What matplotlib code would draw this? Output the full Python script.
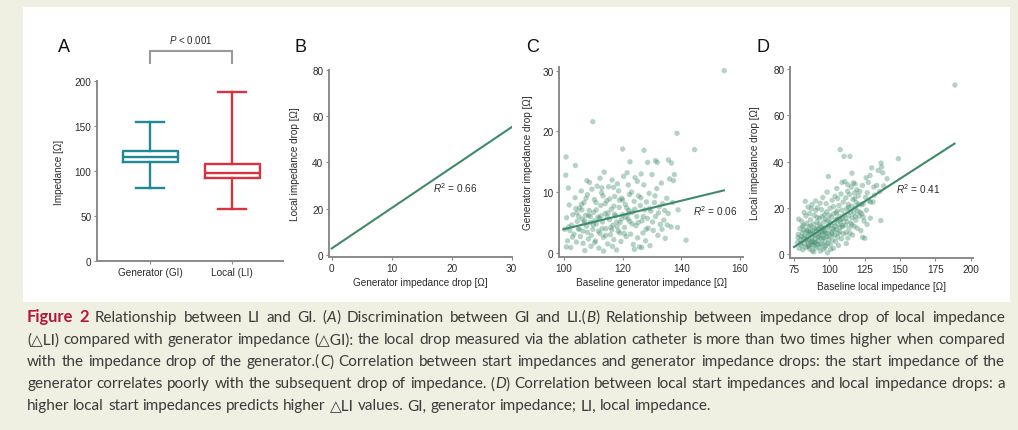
import re
import matplotlib
matplotlib.use("Agg")
import matplotlib.pyplot as plt
from matplotlib.patches import Rectangle

plt.rcParams['font.family'] = ['Liberation Sans', 'DejaVu Sans']
plt.rcParams['mathtext.fontset'] = 'custom'
plt.rcParams['mathtext.rm'] = 'Liberation Sans'
plt.rcParams['mathtext.it'] = 'Liberation Sans:italic'

W, H = 1018, 431

# ---------------- data ----------------
box_labels = ["Generator (GI)", "Local (LI)"]
box_low = [81, 58]
box_q1 = [109.6, 92.6]
box_med = [116.0, 97.8]
box_q3 = [122.2, 107.6]
box_high = [154.6, 188]
p_text = "< 0.001"

b_fit_x = [0, 30]
b_fit_y = [2.8, 55.3]
b_r2 = "0.66"

c_fit_x = [99.8, 154.5]
c_fit_y = [3.9, 10.3]
c_r2 = "0.06"
c_baseline = [154.6, 109.8, 138.5, 144.5, 120.0, 127.3, 100.7, 103.9, 131.2, 131.8, 135.6, 136.6, 137.6, 137.3, 138.9, 138.7, 141.6, 100.6, 101.5,
              100.3, 100.9, 101.2, 101.8, 102.3, 102.6, 103.0, 103.4, 103.8, 104.2, 104.5, 104.9, 105.3, 105.6, 105.9, 106.2, 106.5, 106.8, 107.1, 107.4,
              107.7, 108.0, 108.3, 108.6, 108.9, 109.2, 109.5, 109.8, 110.1, 110.4, 110.7, 111.0, 111.3, 111.6, 111.9, 112.2, 112.5, 112.8, 113.1, 113.4,
              113.7, 114.0, 114.3, 114.6, 114.9, 115.2, 115.5, 115.8, 116.1, 116.4, 116.7, 117.0, 117.3, 117.6, 117.9, 118.2, 118.5, 118.8, 119.1, 119.4,
              119.7, 120.0, 120.3, 120.6, 120.9, 121.2, 121.5, 121.8, 122.1, 122.4, 122.7, 123.0, 123.3, 123.6, 123.9, 124.2, 124.5, 124.8, 125.1, 125.4,
              125.7, 126.0, 126.3, 126.6, 126.9, 127.2, 127.5, 127.8, 128.1, 128.4, 128.7, 129.0, 129.3, 129.6, 130.0, 130.4, 130.8, 131.2, 131.6, 132.0,
              132.4, 132.8, 133.2, 133.6, 134.0, 134.5, 135.0, 135.5, 136.0, 136.5, 137.0,
              104.0, 105.0, 106.0, 107.0, 108.0, 109.0, 110.0, 111.0, 112.0, 113.0, 114.0, 115.0, 116.0, 117.0, 118.0, 119.0, 120.0, 121.0, 122.0,
              110.5, 113.5, 116.5, 106.5, 124.0, 126.5, 102.0, 100.8, 107.8, 112.3, 118.6, 125.0, 128.5, 122.5,
              101.6, 102.9, 104.4, 105.2, 106.1, 106.9, 107.5, 108.4, 109.3, 110.3, 110.9, 111.7, 112.6, 113.3, 114.2, 114.8, 115.6, 116.3,
              117.2, 118.1, 118.9, 119.6, 120.5, 121.4, 122.3, 123.2, 124.1, 125.3, 126.2, 127.0, 128.0, 129.1, 130.2, 131.0, 132.2, 133.4,
              134.3, 135.2, 112.9, 116.9, 121.9, 108.7]
c_drop = [30.0, 21.6, 19.7, 17.0, 17.1, 16.9, 15.8, 14.4, 15.2, 14.9, 15.3, 14.8, 12.9, 11.9, 7.1, 4.2, 2.1, 12.8, 10.7,
          3.9, 5.8, 2.0, 7.9, 0.9, 4.6, 6.3, 3.1, 9.1, 1.8, 5.2, 4.0, 7.4, 2.7, 10.2, 5.6, 3.6, 8.3, 0.4, 6.2,
          4.4, 9.6, 2.3, 7.0, 5.0, 1.1, 10.5, 3.9, 6.7, 8.8, 2.0, 4.8, 11.0, 5.9, 0.8, 3.2, 7.8, 9.9, 5.1, 2.6,
          13.3, 6.5, 4.0, 8.6, 1.5, 10.9, 5.5, 3.0, 7.2, 12.0, 4.6, 2.2, 9.3, 6.1, 0.5, 11.4, 3.6, 7.5, 5.0, 1.9,
          9.0, 6.3, 12.6, 4.2, 8.0, 2.7, 13.2, 5.6, 7.0, 5.2, 3.1, 10.0, 6.7, 1.4, 8.5, 12.4, 4.5, 6.0, 2.5, 9.4,
          1.0, 7.8, 13.0, 5.3, 3.3, 11.2, 7.1, 2.0, 8.4, 5.7, 4.1, 9.8, 1.2, 6.9, 12.9, 3.7, 8.3, 6.0, 10.6, 2.9,
          7.6, 4.7, 11.5, 8.1, 5.4, 2.4, 9.0, 6.5, 12.2, 4.3, 8.3,
          7.3, 6.0, 8.0, 5.3, 3.4, 6.0, 4.6, 7.1, 5.7, 4.0, 8.1, 6.6, 4.2, 7.7, 5.1, 3.3, 8.7, 5.9, 6.5,
          1.7, 0.3, 1.1, 1.6, 0.6, 0.9, 3.7, 1.0, 11.9, 12.3, 10.2, 11.8, 14.9, 15.0,
          4.3, 2.6, 6.6, 3.9, 7.1, 4.9, 9.0, 6.2, 2.9, 5.3, 8.3, 3.6, 6.1, 9.4, 2.9, 5.9, 8.9, 3.8,
          6.4, 4.3, 8.7, 5.6, 3.2, 7.4, 9.6, 4.8, 7.2, 5.0, 9.1, 6.0, 3.9, 7.3, 5.1, 9.4, 6.6, 3.9,
          7.0, 4.6, 10.7, 10.8, 11.2, 11.6]

d_fit_x = [75, 188.5]
d_fit_y = [3.0, 47.8]
d_r2 = "0.41"
d_baseline = [77.5, 78.0, 78.6, 79.2, 79.5, 80.1, 80.4, 80.9, 81.3, 81.7, 82.0, 82.4, 82.8, 83.1, 83.5, 83.8, 84.2, 84.6, 84.9, 85.0,
              83.0, 82.2, 78.3, 81.0, 84.0, 85.3, 79.8, 77.9,
              85.5, 85.8, 86.1, 86.4, 86.7, 87.0, 87.3, 87.6, 87.9, 88.2, 88.5, 88.8, 89.1, 89.4, 89.7, 90.0, 90.3, 90.6, 90.9, 91.2,
              91.5, 91.8, 86.0, 87.8, 89.0, 90.5, 91.0, 88.0, 86.6, 89.8, 85.2, 91.6,
              92.1, 92.4, 92.7, 93.0, 93.3, 93.6, 93.9, 94.2, 94.5, 94.8, 95.1, 95.4, 95.7, 96.0, 96.3, 96.6, 96.9, 97.2, 97.5, 97.8,
              98.1, 98.4, 98.7, 99.0, 99.3, 99.6, 99.9, 93.5, 95.0, 96.8, 98.0, 99.5, 94.0, 97.0, 92.9, 95.9, 98.9,
              100.2, 100.5, 100.8, 101.1, 101.4, 101.7, 102.0, 102.3, 102.6, 102.9, 103.2, 103.5, 103.8, 104.1, 104.4, 104.7, 105.0,
              105.3, 105.6, 105.9, 106.2, 106.5, 106.8, 107.1, 107.4, 107.7, 108.0, 108.3, 108.6, 108.9, 109.2, 109.5, 109.8, 110.0,
              101.0, 103.0, 105.5, 107.5, 109.0, 100.0, 104.0, 106.0, 110.4,
              110.6, 111.0, 111.3, 111.6, 111.9, 112.2, 112.5, 112.8, 113.1, 113.4, 113.7, 114.0, 114.3, 114.6, 114.9, 115.2, 115.5,
              115.8, 116.1, 116.4, 116.7, 117.0, 117.3, 117.6, 117.9, 118.2, 118.5, 118.8, 119.1, 119.4, 119.7, 120.0, 112.0, 114.5,
              116.0, 118.0, 113.0,
              120.5, 121.0, 121.5, 121.8, 122.3, 122.8, 123.4, 123.5, 124.0, 124.6, 125.1, 125.6, 126.2, 126.8, 126.7, 127.5, 128.0,
              128.8, 129.2, 130.0, 130.9, 131.4, 132.0, 133.5, 134.6, 135.5, 136.4, 136.6, 137.0, 137.7, 138.5, 140.8, 148.8, 188.8,
              126.0, 124.0, 129.0,
              80.5, 81.8, 83.3, 84.4, 85.7, 86.9, 87.5, 88.6, 89.5, 90.7, 91.4, 92.6, 93.8, 94.6, 95.5, 96.5, 97.4, 98.3, 99.2, 100.7,
              101.9, 103.4, 104.9, 106.4, 107.8, 109.4, 111.4, 113.6, 115.9, 118.4, 120.8, 123.0]
d_drop = [5.0, 8.5, 2.5, 11.0, 6.3, 3.8, 14.2, 9.1, 1.8, 6.9, 12.5, 4.4, 8.0, 2.9, 16.5, 10.4, 5.6, 7.7, 3.1, 20.3,
          22.8, 18.0, 15.1, 12.0, 13.3, 9.5, 4.7, 7.2,
          6.0, 11.8, 2.2, 8.8, 14.8, 4.9, 19.6, 7.0, 1.4, 10.2, 5.3, 12.9, 3.5, 16.8, 8.1, 6.5, 23.0, 2.6, 9.9, 13.7,
          4.2, 7.4, 17.5, 21.4, 0.9, 18.9, 11.2, 4.1, 9.7, 5.0, 4.0, 20.0,
          5.8, 10.8, 3.0, 15.5, 8.4, 1.2, 12.0, 6.7, 19.2, 4.6, 9.3, 24.5, 2.0, 13.8, 7.1, 17.0, 5.2, 11.5, 3.6, 21.8,
          8.9, 26.8, 0.5, 14.6, 33.6, 6.2, 10.0, 22.0, 16.2, 2.8, 18.3, 12.6, 9.6, 9.0, 13.0, 10.9, 4.5,
          7.8, 19.8, 4.1, 12.3, 15.9, 9.2, 23.3, 6.0, 11.0, 2.4, 17.4, 13.5, 8.2, 25.0, 5.4, 14.9, 10.6,
          28.4, 18.6, 7.3, 12.8, 3.7, 21.0, 16.3, 9.6, 45.2, 13.9, 26.0, 6.6, 19.0, 11.7, 15.2, 22.5, 8.7,
          2.0, 20.5, 15.0, 11.5, 31.0, 16.8, 12.0, 24.0, 42.3,
          17.0, 31.4, 12.6, 24.3, 9.4, 19.5, 14.0, 27.2, 6.9, 21.5, 16.6, 11.2, 25.8, 42.3, 18.2, 13.4, 29.0,
          20.7, 15.7, 8.2, 23.6, 30.8, 17.8, 12.0, 26.4, 30.4, 19.9, 14.6, 22.2, 27.8, 11.2, 18.6, 4.5, 9.0,
          35.0, 24.0, 30.0,
          25.2, 16.4, 27.1, 18.1, 10.1, 21.3, 29.7, 7.2, 21.7, 14.3, 6.8, 24.5, 19.0, 26.5, 12.8, 31.0, 23.0,
          34.0, 22.5, 37.3, 22.5, 29.0, 25.5, 29.7, 36.2, 27.0, 14.5, 39.4, 37.7, 35.2, 29.5, 32.6, 41.3, 73.2,
          33.0, 16.0, 15.5,
          7.5, 10.3, 6.2, 9.9, 3.5, 12.2, 5.6, 8.7, 10.9, 4.8, 15.8, 7.8, 4.1, 11.4, 6.9, 9.7, 15.0, 7.5, 11.9, 13.6,
          8.3, 10.3, 17.8, 9.0, 14.8, 12.4, 15.3, 20.2, 12.7, 16.2, 21.6, 17.4]

caption_lines = [
    "**Figure 2** Relationship between LI and GI. (*A*) Discrimination between GI and LI.(*B*) Relationship between impedance drop of local impedance",
    "(\u25b3LI) compared with generator impedance (\u25b3GI): the local drop measured via the ablation catheter is more than two times higher when compared",
    "with the impedance drop of the generator.(*C*) Correlation between start impedances and generator impedance drops: the start impedance of the",
    "generator correlates poorly with the subsequent drop of impedance. (*D*) Correlation between local start impedances and local impedance drops: a",
    "higher local start impedances predicts higher \u25b3LI values. GI, generator impedance; LI, local impedance.",
]

# ---------------- style ----------------
BG = '#efefe2'
SPINE = '#8a8a8a'
TXT = '#2b2b2b'
GREEN = '#3e8b6b'
TEAL = '#218896'
RED = '#d9333f'
FS = 7.2

fig = plt.figure(figsize=(W / 100, H / 100), dpi=100, facecolor=BG)
fig.patches.append(Rectangle((23 / W, 1 - 303 / H), (1010 - 23) / W, (303 - 8) / H,
                             transform=fig.transFigure, facecolor='white', edgecolor='none', zorder=-5))


def make_ax(x0, x1, ytop, ybot):
    ax = fig.add_axes([x0 / W, 1 - ybot / H, (x1 - x0) / W, (ybot - ytop) / H])
    ax.set_facecolor('none')
    for s in ['top', 'right']:
        ax.spines[s].set_visible(False)
    for s in ['left', 'bottom']:
        ax.spines[s].set_color(SPINE)
        ax.spines[s].set_linewidth(1.4)
    ax.tick_params(colors=SPINE, labelcolor=TXT, labelsize=FS, length=2.5, width=0.8, pad=1.5)
    return ax


# ---------------- Panel A ----------------
axA = make_ax(97, 283, 82, 262)
stats = []
for i in range(len(box_labels)):
    stats.append(dict(med=box_med[i], q1=box_q1[i], q3=box_q3[i], whislo=box_low[i], whishi=box_high[i], fliers=[]))
colors = [TEAL, RED]
bp = axA.bxp(stats, positions=[1, 2], widths=0.67, capwidths=0.34, showfliers=False, patch_artist=False)
for i, c in enumerate(colors):
    bp['boxes'][i].set(color=c, linewidth=1.7)
    bp['medians'][i].set(color=c, linewidth=1.7)
    for k in (2 * i, 2 * i + 1):
        bp['whiskers'][k].set(color=c, linewidth=1.7)
        bp['caps'][k].set(color=c, linewidth=1.7)
axA.set_xlim(0.354, 2.62)
axA.set_ylim(0, 200)
axA.set_yticks([0, 50, 100, 150, 200])
axA.set_xticks([1, 2])
axA.set_xticklabels(box_labels)
axA.set_ylabel("Impedance [\u03a9]", fontsize=FS, color=TXT)
axA.yaxis.set_label_coords(-0.18, 0.5)
# significance bracket
bx = [1, 1, 2, 2]
by = [220, 233, 233, 220]
axA.plot(bx, by, color='#9a9a9a', lw=1.5, clip_on=False, solid_joinstyle='miter')
axA.text(1.5, 240, r"$\mathit{P}$ " + p_text, ha='center', va='bottom', fontsize=FS - 0.2, color=TXT, clip_on=False)

# ---------------- Panel B ----------------
axB = make_ax(329, 512, 71, 258)
axB.plot(b_fit_x, b_fit_y, color=GREEN, lw=1.5)
axB.set_xlim(-0.45, 30.05)
axB.set_ylim(-0.9, 80)
axB.set_xticks([0, 10, 20, 30])
axB.set_yticks([0, 20, 40, 60, 80])
axB.set_xlabel("Generator impedance drop [\u03a9]", fontsize=FS, color=TXT)
axB.set_ylabel("Local impedance drop [\u03a9]", fontsize=FS, color=TXT)
axB.xaxis.set_label_coords(0.5, -0.107)
axB.yaxis.set_label_coords(-0.158, 0.5)
axB.text(16.9, 29.3, r"$\mathit{R}^2$ = " + b_r2, ha='left', va='center', fontsize=FS, color=TXT)

# ---------------- Panel C ----------------
axC = make_ax(559, 743, 68, 258)
axC.scatter(c_baseline, c_drop, s=15, color=GREEN, alpha=0.38, edgecolors='none')
axC.plot(c_fit_x, c_fit_y, color=GREEN, lw=1.5)
axC.set_xlim(98.3, 161)
axC.set_ylim(-0.66, 30.6)
axC.set_xticks([100, 120, 140, 160])
axC.set_yticks([0, 10, 20, 30])
axC.set_xlabel("Baseline generator impedance [\u03a9]", fontsize=FS, color=TXT)
axC.set_ylabel("Generator impedance drop [\u03a9]", fontsize=FS, color=TXT)
axC.xaxis.set_label_coords(0.5, -0.105)
axC.yaxis.set_label_coords(-0.141, 0.5)
axC.text(144.0, 7.0, r"$\mathit{R}^2$ = " + c_r2, ha='left', va='center', fontsize=FS, color=TXT)

# ---------------- Panel D ----------------
axD = make_ax(790, 973, 68, 259)
axD.scatter(d_baseline, d_drop, s=15, color=GREEN, alpha=0.38, edgecolors='none')
axD.plot(d_fit_x, d_fit_y, color=GREEN, lw=1.5)
axD.set_xlim(72.2, 201.6)
axD.set_ylim(-1.74, 81)
axD.set_xticks([75, 100, 125, 150, 175, 200])
axD.set_yticks([0, 20, 40, 60, 80])
axD.set_xlabel("Baseline local impedance [\u03a9]", fontsize=FS, color=TXT)
axD.set_ylabel("Local impedance drop [\u03a9]", fontsize=FS, color=TXT)
axD.xaxis.set_label_coords(0.5, -0.12)
axD.yaxis.set_label_coords(-0.164, 0.5)
axD.text(147.4, 28.4, r"$\mathit{R}^2$ = " + d_r2, ha='left', va='center', fontsize=FS, color=TXT)

# panel letters
for lab, px, py in [("A", 64, 48), ("B", 300.5, 47), ("C", 532.5, 47), ("D", 762.5, 47)]:
    fig.text(px / W, 1 - py / H, lab, ha='center', va='center', fontsize=13, color='#111111')

# ---------------- caption (justified) ----------------
renderer = fig.canvas.get_renderer()
CAP_FAM = ['Lato', 'DejaVu Sans']
CAP_COLOR = '#3a3a3a'
FIG_RED = '#b5163c'


def parse(line):
    out = []
    for part in re.split(r'(\*\*[^*]+\*\*|\*[^*]+\*)', line):
        if not part:
            continue
        if part.startswith('**'):
            out.append((part[2:-2], 'bold'))
        elif part.startswith('*'):
            out.append((part[1:-1], 'italic'))
        else:
            out.append((part, 'normal'))
    return out


def words_of(segs):
    words = [[]]
    for text, style in segs:
        pieces = text.split(' ')
        for i, p in enumerate(pieces):
            if i > 0:
                words.append([])
            if p:
                words[-1].append((p, style))
    return [w for w in words if w]


def seg_kwargs(style, size):
    if style == 'bold':
        return dict(fontweight='bold', color=FIG_RED, fontsize=size * 1.08)
    if style == 'italic':
        return dict(fontstyle='italic', color=CAP_COLOR, fontsize=size)
    return dict(color=CAP_COLOR, fontsize=size)


def measure(text, style, size):
    t = fig.text(0, 0, text, family=CAP_FAM, **seg_kwargs(style, size))
    w = t.get_window_extent(renderer).width
    t.remove()
    return w


cap_left, cap_right = 27, 1005
base_size = 10.0
line_words = [words_of(parse(l)) for l in caption_lines]


def natural_width(words, size):
    sp = measure("a a", 'normal', size) - measure("aa", 'normal', size)
    tot = sum(sum(measure(t, s, size) for t, s in w) for w in words)
    return tot + sp * (len(words) - 1)


maxw = max(natural_width(w, base_size) for w in line_words[:-1])
cap_size = base_size * (cap_right - cap_left - 2) / maxw
space_w = measure("a a", 'normal', cap_size) - measure("aa", 'normal', cap_size)

baselines = [322, 344.5, 366.5, 388.5, 410.5]
for li, words in enumerate(line_words):
    widths = [[measure(t, s, cap_size) for t, s in w] for w in words]
    total = sum(sum(ws) for ws in widths)
    if li < len(line_words) - 1:
        gap = (cap_right - cap_left - total) / (len(words) - 1)
    else:
        gap = space_w
    x = cap_left
    yb = 1 - baselines[li] / H
    for w, ws in zip(words, widths):
        for (t, s), sw in zip(w, ws):
            fig.text(x / W, yb, t, ha='left', va='baseline', family=CAP_FAM, **seg_kwargs(s, cap_size))
            x += sw
        x += gap

fig.savefig("out.png", dpi=100, facecolor=BG)
